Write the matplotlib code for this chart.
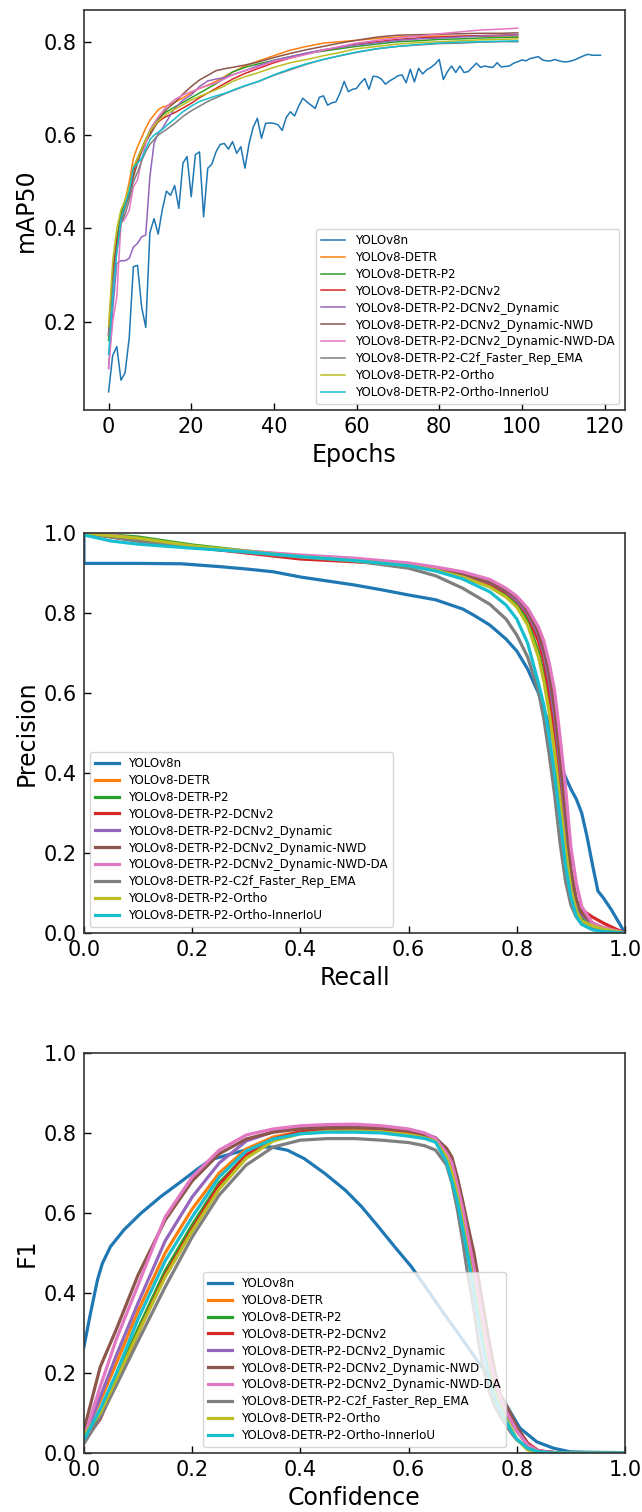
import matplotlib
matplotlib.use("Agg")
import matplotlib.pyplot as plt
from matplotlib.ticker import MultipleLocator

names = ['YOLOv8n', 'YOLOv8-DETR', 'YOLOv8-DETR-P2', 'YOLOv8-DETR-P2-DCNv2',
         'YOLOv8-DETR-P2-DCNv2_Dynamic', 'YOLOv8-DETR-P2-DCNv2_Dynamic-NWD',
         'YOLOv8-DETR-P2-DCNv2_Dynamic-NWD-DA', 'YOLOv8-DETR-P2-C2f_Faster_Rep_EMA',
         'YOLOv8-DETR-P2-Ortho', 'YOLOv8-DETR-P2-Ortho-InnerIoU']

# ---- mAP50 vs epochs ----
v8n_map = [0.05, 0.128, 0.147, 0.075, 0.091, 0.166, 0.318, 0.321, 0.232, 0.188,
           0.391, 0.421, 0.388, 0.44, 0.48, 0.471, 0.492, 0.443, 0.54, 0.554,
           0.468, 0.558, 0.564, 0.425, 0.529, 0.538, 0.564, 0.58, 0.582, 0.57,
           0.586, 0.561, 0.575, 0.529, 0.582, 0.617, 0.636, 0.593, 0.625, 0.626,
           0.625, 0.622, 0.61, 0.638, 0.65, 0.641, 0.662, 0.679, 0.671, 0.664,
           0.657, 0.681, 0.684, 0.664, 0.669, 0.671, 0.69, 0.715, 0.693, 0.698,
           0.7, 0.712, 0.721, 0.698, 0.726, 0.725, 0.72, 0.709, 0.716, 0.721,
           0.727, 0.729, 0.712, 0.741, 0.714, 0.743, 0.731, 0.74, 0.745, 0.752,
           0.762, 0.719, 0.736, 0.748, 0.734, 0.748, 0.734, 0.736, 0.745, 0.754,
           0.745, 0.748, 0.746, 0.745, 0.755, 0.746, 0.747, 0.748, 0.754, 0.757,
           0.761, 0.759, 0.764, 0.766, 0.768, 0.761, 0.759, 0.759, 0.762, 0.759,
           0.757, 0.757, 0.759, 0.762, 0.766, 0.77, 0.773, 0.771, 0.771, 0.771]
v8n_epochs = list(range(len(v8n_map)))

ep = [0, 1, 2, 3, 4, 5, 6, 7, 8, 9, 10, 11, 12, 13, 14, 16, 18, 20, 22, 24, 26,
      28, 30, 33, 36, 40, 44, 48, 52, 56, 60, 65, 70, 75, 80, 85, 90, 95, 99]
map_detr = [0.175, 0.3, 0.37, 0.43, 0.46, 0.5, 0.55, 0.575, 0.595, 0.615, 0.632,
            0.643, 0.654, 0.66, 0.662, 0.67, 0.68, 0.69, 0.7, 0.707, 0.715, 0.725,
            0.735, 0.748, 0.758, 0.77, 0.782, 0.79, 0.797, 0.8, 0.803, 0.807, 0.81,
            0.812, 0.812, 0.811, 0.812, 0.81, 0.81]
map_p2 = [0.16, 0.3, 0.38, 0.43, 0.46, 0.47, 0.53, 0.55, 0.57, 0.59, 0.61, 0.625,
          0.635, 0.643, 0.65, 0.66, 0.67, 0.68, 0.69, 0.7, 0.71, 0.722, 0.735,
          0.745, 0.752, 0.76, 0.768, 0.775, 0.78, 0.785, 0.79, 0.795, 0.8, 0.802,
          0.805, 0.806, 0.808, 0.809, 0.81]
map_dcn = [0.175, 0.3, 0.37, 0.42, 0.45, 0.48, 0.52, 0.55, 0.57, 0.59, 0.605,
           0.618, 0.628, 0.635, 0.64, 0.648, 0.658, 0.668, 0.68, 0.69, 0.7, 0.71,
           0.72, 0.732, 0.742, 0.755, 0.765, 0.775, 0.782, 0.788, 0.795, 0.8,
           0.805, 0.808, 0.81, 0.812, 0.813, 0.814, 0.815]
map_dyn = [0.1, 0.225, 0.325, 0.331, 0.331, 0.336, 0.36, 0.368, 0.382, 0.386,
           0.511, 0.582, 0.604, 0.614, 0.629, 0.657, 0.675, 0.686, 0.704, 0.716,
           0.72, 0.723, 0.729, 0.738, 0.748, 0.76, 0.768, 0.776, 0.783, 0.788,
           0.793, 0.798, 0.803, 0.806, 0.808, 0.81, 0.812, 0.813, 0.815]
map_nwd = [0.17, 0.29, 0.36, 0.41, 0.445, 0.47, 0.51, 0.54, 0.565, 0.585, 0.6,
           0.615, 0.63, 0.645, 0.655, 0.67, 0.688, 0.704, 0.718, 0.728, 0.738,
           0.742, 0.745, 0.75, 0.756, 0.766, 0.775, 0.783, 0.79, 0.797, 0.803,
           0.81, 0.814, 0.815, 0.816, 0.817, 0.818, 0.818, 0.819]
map_da = [0.1, 0.2, 0.254, 0.411, 0.421, 0.439, 0.489, 0.504, 0.546, 0.582, 0.611,
          0.625, 0.639, 0.65, 0.661, 0.676, 0.686, 0.693, 0.7, 0.706, 0.712, 0.72,
          0.729, 0.738, 0.745, 0.758, 0.765, 0.773, 0.782, 0.79, 0.797, 0.803,
          0.808, 0.812, 0.817, 0.821, 0.825, 0.827, 0.829]
map_c2f = [0.17, 0.28, 0.35, 0.41, 0.43, 0.46, 0.5, 0.52, 0.545, 0.565, 0.58,
           0.59, 0.6, 0.606, 0.612, 0.625, 0.64, 0.652, 0.662, 0.672, 0.68, 0.688,
           0.695, 0.705, 0.714, 0.728, 0.74, 0.752, 0.762, 0.77, 0.777, 0.785,
           0.79, 0.793, 0.796, 0.797, 0.799, 0.8, 0.8]
map_ortho = [0.19, 0.33, 0.4, 0.44, 0.46, 0.49, 0.53, 0.55, 0.57, 0.59, 0.608,
             0.62, 0.63, 0.638, 0.645, 0.655, 0.665, 0.675, 0.683, 0.69, 0.697,
             0.705, 0.715, 0.725, 0.733, 0.745, 0.755, 0.762, 0.77, 0.777, 0.785,
             0.79, 0.795, 0.798, 0.8, 0.802, 0.804, 0.805, 0.806]
map_inner = [0.13, 0.25, 0.35, 0.42, 0.45, 0.48, 0.53, 0.54, 0.55, 0.57, 0.59,
             0.6, 0.606, 0.612, 0.62, 0.635, 0.65, 0.662, 0.672, 0.678, 0.684,
             0.689, 0.696, 0.706, 0.714, 0.729, 0.742, 0.753, 0.762, 0.77, 0.778,
             0.785, 0.79, 0.794, 0.797, 0.799, 0.8, 0.801, 0.802]

# ---- precision-recall ----
v8n_rec = [0, 0, 0.05, 0.1, 0.18, 0.25, 0.3, 0.35, 0.4, 0.45, 0.5, 0.55, 0.6, 0.65,
           0.7, 0.72, 0.75, 0.78, 0.8, 0.82, 0.84, 0.86, 0.87, 0.88, 0.89, 0.9,
           0.91, 0.92, 0.93, 0.94, 0.95, 0.96, 0.975, 1.0]
v8n_prec = [1.0, 0.924, 0.924, 0.924, 0.923, 0.916, 0.91, 0.903, 0.89, 0.88, 0.87,
            0.858, 0.845, 0.833, 0.81, 0.795, 0.77, 0.735, 0.705, 0.66, 0.6, 0.52,
            0.47, 0.425, 0.39, 0.36, 0.335, 0.3, 0.24, 0.17, 0.105, 0.088, 0.058, 0.0]

rec = [0, 0.05, 0.1, 0.2, 0.3, 0.4, 0.5, 0.6, 0.65, 0.7, 0.75, 0.78, 0.8, 0.82,
       0.84, 0.85, 0.86, 0.87, 0.88, 0.89, 0.9, 0.91, 0.92, 0.94, 0.96, 0.98, 1.0]
prec_detr = [1.0, 0.992, 0.982, 0.966, 0.953, 0.942, 0.933, 0.92, 0.91, 0.893,
             0.868, 0.845, 0.82, 0.78, 0.7, 0.64, 0.56, 0.46, 0.34, 0.22, 0.12,
             0.06, 0.035, 0.02, 0.01, 0.005, 0.0]
prec_p2 = [1.0, 0.995, 0.99, 0.97, 0.955, 0.942, 0.932, 0.92, 0.91, 0.893, 0.868,
           0.845, 0.822, 0.78, 0.7, 0.645, 0.565, 0.465, 0.345, 0.225, 0.12, 0.062,
           0.035, 0.02, 0.012, 0.006, 0.0]
prec_dcn = [1.0, 0.99, 0.98, 0.965, 0.95, 0.935, 0.928, 0.92, 0.91, 0.895, 0.872,
            0.852, 0.83, 0.795, 0.73, 0.68, 0.6, 0.5, 0.37, 0.24, 0.12, 0.075,
            0.058, 0.04, 0.025, 0.012, 0.0]
prec_dyn = [1.0, 0.995, 0.985, 0.965, 0.952, 0.943, 0.935, 0.922, 0.912, 0.898,
            0.876, 0.855, 0.832, 0.8, 0.745, 0.7, 0.63, 0.54, 0.42, 0.28, 0.15,
            0.08, 0.045, 0.022, 0.012, 0.005, 0.0]
prec_nwd = [1.0, 0.995, 0.985, 0.965, 0.952, 0.942, 0.935, 0.922, 0.912, 0.898,
            0.877, 0.857, 0.838, 0.805, 0.752, 0.71, 0.65, 0.56, 0.44, 0.3, 0.16,
            0.085, 0.05, 0.025, 0.013, 0.006, 0.0]
prec_da = [1.0, 0.995, 0.985, 0.965, 0.955, 0.945, 0.937, 0.925, 0.915, 0.903,
           0.884, 0.862, 0.842, 0.812, 0.765, 0.73, 0.675, 0.605, 0.49, 0.366,
           0.215, 0.125, 0.066, 0.025, 0.014, 0.007, 0.0]
prec_c2f = [1.0, 0.99, 0.98, 0.965, 0.952, 0.94, 0.93, 0.912, 0.893, 0.862, 0.822,
            0.785, 0.745, 0.69, 0.605, 0.535, 0.445, 0.345, 0.225, 0.13, 0.07,
            0.04, 0.022, 0.01, 0.005, 0.002, 0.0]
prec_ortho = [1.0, 0.993, 0.987, 0.968, 0.954, 0.941, 0.931, 0.918, 0.907, 0.89,
              0.865, 0.84, 0.815, 0.77, 0.69, 0.63, 0.55, 0.45, 0.33, 0.21, 0.11,
              0.055, 0.03, 0.018, 0.01, 0.005, 0.0]
prec_inner = [0.995, 0.98, 0.972, 0.962, 0.953, 0.941, 0.931, 0.918, 0.905, 0.885,
              0.853, 0.82, 0.785, 0.725, 0.625, 0.57, 0.49, 0.395, 0.285, 0.17,
              0.09, 0.042, 0.022, 0.008, 0.004, 0.002, 0.0]

# ---- F1 vs confidence ----
v8n_conf = [0, 0.012, 0.025, 0.034, 0.049, 0.074, 0.105, 0.142, 0.179, 0.209,
            0.234, 0.278, 0.316, 0.346, 0.376, 0.407, 0.445, 0.483, 0.513, 0.544,
            0.574, 0.605, 0.635, 0.665, 0.696, 0.726, 0.757, 0.787, 0.806, 0.837,
            0.868, 0.899, 0.93, 1.0]
v8n_f1 = [0.266, 0.349, 0.433, 0.474, 0.516, 0.558, 0.599, 0.641, 0.678, 0.709,
          0.733, 0.75, 0.764, 0.765, 0.757, 0.736, 0.699, 0.657, 0.616, 0.566,
          0.516, 0.466, 0.408, 0.349, 0.291, 0.233, 0.175, 0.105, 0.062, 0.028,
          0.012, 0.003, 0.002, 0.001]

conf = [0, 0.03, 0.06, 0.1, 0.15, 0.2, 0.25, 0.3, 0.35, 0.4, 0.45, 0.5, 0.55, 0.6,
        0.63, 0.65, 0.67, 0.68, 0.69, 0.7, 0.71, 0.72, 0.73, 0.74, 0.75, 0.76,
        0.77, 0.78, 0.79, 0.8, 0.82, 0.84, 0.87, 0.9, 1.0]
f1_detr = [0.045, 0.13, 0.225, 0.355, 0.5, 0.61, 0.7, 0.76, 0.79, 0.803, 0.807,
           0.807, 0.805, 0.799, 0.791, 0.782, 0.75, 0.715, 0.665, 0.6, 0.53, 0.455,
           0.37, 0.29, 0.22, 0.165, 0.13, 0.105, 0.08, 0.058, 0.022, 0.005, 0.001,
           0.0, 0.0]
f1_p2 = [0.04, 0.1, 0.19, 0.31, 0.455, 0.57, 0.675, 0.745, 0.783, 0.8, 0.806,
         0.807, 0.805, 0.798, 0.79, 0.781, 0.745, 0.71, 0.66, 0.59, 0.52, 0.445,
         0.36, 0.285, 0.215, 0.16, 0.125, 0.1, 0.078, 0.055, 0.02, 0.004, 0.001,
         0.0, 0.0]
f1_dcn = [0.03, 0.085, 0.18, 0.3, 0.445, 0.56, 0.67, 0.745, 0.785, 0.803, 0.81,
          0.81, 0.808, 0.802, 0.794, 0.785, 0.755, 0.725, 0.675, 0.61, 0.54, 0.47,
          0.39, 0.31, 0.235, 0.175, 0.14, 0.115, 0.09, 0.065, 0.025, 0.006, 0.001,
          0.0, 0.0]
f1_dyn = [0.035, 0.14, 0.245, 0.375, 0.53, 0.64, 0.725, 0.78, 0.803, 0.812, 0.815,
          0.815, 0.813, 0.807, 0.798, 0.788, 0.758, 0.735, 0.685, 0.625, 0.555,
          0.485, 0.405, 0.325, 0.25, 0.19, 0.14, 0.11, 0.085, 0.06, 0.02, 0.004,
          0.001, 0.0, 0.0]
f1_nwd = [0.058, 0.215, 0.31, 0.445, 0.582, 0.68, 0.748, 0.785, 0.802, 0.81, 0.813,
          0.813, 0.812, 0.806, 0.796, 0.787, 0.762, 0.74, 0.69, 0.63, 0.566, 0.505,
          0.43, 0.35, 0.27, 0.2, 0.145, 0.12, 0.095, 0.065, 0.022, 0.004, 0.001,
          0.0, 0.0]
f1_da = [0.037, 0.166, 0.285, 0.42, 0.59, 0.69, 0.757, 0.795, 0.81, 0.818, 0.821,
         0.822, 0.818, 0.81, 0.8, 0.786, 0.75, 0.725, 0.67, 0.61, 0.54, 0.47,
         0.39, 0.31, 0.235, 0.18, 0.135, 0.105, 0.08, 0.055, 0.02, 0.005, 0.001,
         0.0, 0.0]
f1_c2f = [0.024, 0.088, 0.17, 0.28, 0.415, 0.54, 0.645, 0.72, 0.765, 0.782, 0.786,
          0.786, 0.782, 0.776, 0.768, 0.757, 0.72, 0.675, 0.61, 0.53, 0.44, 0.365,
          0.27, 0.2, 0.15, 0.115, 0.09, 0.07, 0.05, 0.033, 0.012, 0.003, 0.0,
          0.0, 0.0]
f1_ortho = [0.045, 0.1, 0.185, 0.3, 0.44, 0.555, 0.66, 0.737, 0.78, 0.798, 0.804,
            0.805, 0.803, 0.796, 0.788, 0.779, 0.74, 0.7, 0.645, 0.575, 0.5, 0.425,
            0.34, 0.265, 0.195, 0.145, 0.11, 0.085, 0.06, 0.035, 0.008, 0.001,
            0.0, 0.0, 0.0]
f1_inner = [0.033, 0.11, 0.2, 0.335, 0.48, 0.59, 0.69, 0.755, 0.785, 0.798, 0.802,
            0.802, 0.8, 0.792, 0.786, 0.777, 0.728, 0.68, 0.63, 0.56, 0.49, 0.41,
            0.325, 0.25, 0.18, 0.135, 0.105, 0.08, 0.055, 0.035, 0.012, 0.003,
            0.0, 0.0, 0.0]

map_rest = [map_detr, map_p2, map_dcn, map_dyn, map_nwd, map_da, map_c2f, map_ortho, map_inner]
prec_rest = [prec_detr, prec_p2, prec_dcn, prec_dyn, prec_nwd, prec_da, prec_c2f, prec_ortho, prec_inner]
f1_rest = [f1_detr, f1_p2, f1_dcn, f1_dyn, f1_nwd, f1_da, f1_c2f, f1_ortho, f1_inner]
colors = plt.rcParams['axes.prop_cycle'].by_key()['color']


def style(ax, xlabel, ylabel):
    ax.set_xlabel(xlabel, fontsize=17)
    ax.set_ylabel(ylabel, fontsize=17)
    ax.tick_params(direction='in', labelsize=15, length=5, width=1, pad=5,
                   top=False, right=False)
    for s in ax.spines.values():
        s.set_linewidth(1.2)
        s.set_color('#333333')


fig = plt.figure(figsize=(6.42, 15.12), dpi=100)
ax1 = fig.add_axes([0.1308, 0.7288, 0.8427, 0.2646])
ax2 = fig.add_axes([0.1308, 0.3829, 0.8427, 0.2646])
ax3 = fig.add_axes([0.1308, 0.0390, 0.8427, 0.2646])

ax1.plot(v8n_epochs, v8n_map, color=colors[0], lw=1.1, label=names[0])
for i, ys in enumerate(map_rest):
    ax1.plot(ep, ys, color=colors[i + 1], lw=1.1, label=names[i + 1])
ax1.yaxis.set_major_locator(MultipleLocator(0.2))
style(ax1, 'Epochs', 'mAP50')
ax1.legend(loc='lower right', fontsize=8.6, labelspacing=0.33)

ax2.plot(v8n_rec, v8n_prec, color=colors[0], lw=2.3, label=names[0])
for i, ys in enumerate(prec_rest):
    ax2.plot(rec, ys, color=colors[i + 1], lw=2.3, label=names[i + 1])
ax2.set_xlim(0, 1)
ax2.set_ylim(0, 1)
style(ax2, 'Recall', 'Precision')
ax2.legend(loc='lower left', fontsize=8.6, labelspacing=0.33)

ax3.plot(v8n_conf, v8n_f1, color=colors[0], lw=2.3, label=names[0])
for i, ys in enumerate(f1_rest):
    ax3.plot(conf, ys, color=colors[i + 1], lw=2.3, label=names[i + 1])
ax3.set_xlim(0, 1)
ax3.set_ylim(0, 1)
style(ax3, 'Confidence', 'F1')
ax3.legend(loc='lower center', fontsize=8.6, labelspacing=0.33)

fig.savefig('out.png', dpi=100)
